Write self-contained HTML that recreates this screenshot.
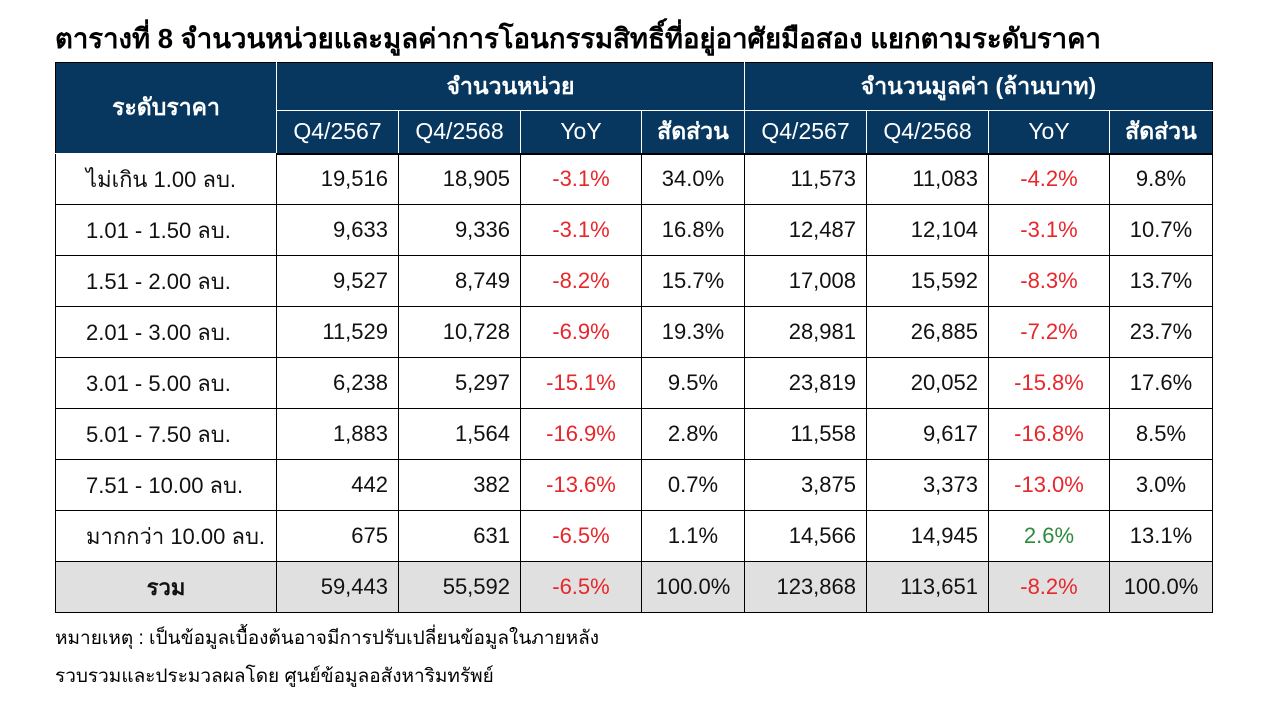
<!DOCTYPE html>
<html><head><meta charset="utf-8"><style>
body{margin:0;width:1269px;height:726px;background:#fff;font-family:"Liberation Sans","DejaVu Sans",sans-serif;position:relative;overflow:hidden}
.title{position:absolute;left:55px;top:17px;font-size:27.5px;font-weight:bold;color:#000;white-space:nowrap}
table{position:absolute;left:55px;top:62px;border-collapse:collapse;table-layout:fixed;font-size:22px}
td,th{border:1px solid #000;padding:0 10px;box-sizing:border-box;white-space:nowrap}
th{background:#07375f;color:#fff;font-weight:normal;border-color:#fff;text-align:center;font-size:23px}
th.b{font-weight:bold}
tr.h1 th{height:48px}
tr.h2 th{height:43px;border-bottom:2px solid #000}
td{height:51px;text-align:right;color:#111}
td.l{text-align:left;padding-left:30px}
td.c{text-align:center}
.r{color:#e8262b}.g{color:#2e8b3d}
tr.tot td{background:#e0e0e0}
.note{position:absolute;left:55px;font-size:19px;color:#000;white-space:nowrap}
</style></head><body>
<div class="title">ตารางที่ 8 จำนวนหน่วยและมูลค่าการโอนกรรมสิทธิ์ที่อยู่อาศัยมือสอง แยกตามระดับราคา</div>
<table>
<colgroup><col style="width:221px"><col style="width:122px"><col style="width:122px"><col style="width:121px"><col style="width:103px"><col style="width:122px"><col style="width:122px"><col style="width:121px"><col style="width:103px"></colgroup>
<tr class="h1"><th rowspan="2" class="b" style="border-left:1px solid #000;border-top:1px solid #000">ระดับราคา</th><th colspan="4" class="b" style="border-top:1px solid #000">จำนวนหน่วย</th><th colspan="4" class="b" style="border-top:1px solid #000;border-right:1px solid #000">จำนวนมูลค่า (ล้านบาท)</th></tr>
<tr class="h2"><th>Q4/2567</th><th>Q4/2568</th><th>YoY</th><th class="b">สัดส่วน</th><th>Q4/2567</th><th>Q4/2568</th><th>YoY</th><th class="b" style="border-right:1px solid #000">สัดส่วน</th></tr>
<tr><td class="l">ไม่เกิน 1.00 ลบ.</td><td>19,516</td><td>18,905</td><td class="c r">-3.1%</td><td class="c">34.0%</td><td>11,573</td><td>11,083</td><td class="c r">-4.2%</td><td class="c">9.8%</td></tr>
<tr><td class="l">1.01 - 1.50 ลบ.</td><td>9,633</td><td>9,336</td><td class="c r">-3.1%</td><td class="c">16.8%</td><td>12,487</td><td>12,104</td><td class="c r">-3.1%</td><td class="c">10.7%</td></tr>
<tr><td class="l">1.51 - 2.00 ลบ.</td><td>9,527</td><td>8,749</td><td class="c r">-8.2%</td><td class="c">15.7%</td><td>17,008</td><td>15,592</td><td class="c r">-8.3%</td><td class="c">13.7%</td></tr>
<tr><td class="l">2.01 - 3.00 ลบ.</td><td>11,529</td><td>10,728</td><td class="c r">-6.9%</td><td class="c">19.3%</td><td>28,981</td><td>26,885</td><td class="c r">-7.2%</td><td class="c">23.7%</td></tr>
<tr><td class="l">3.01 - 5.00 ลบ.</td><td>6,238</td><td>5,297</td><td class="c r">-15.1%</td><td class="c">9.5%</td><td>23,819</td><td>20,052</td><td class="c r">-15.8%</td><td class="c">17.6%</td></tr>
<tr><td class="l">5.01 - 7.50 ลบ.</td><td>1,883</td><td>1,564</td><td class="c r">-16.9%</td><td class="c">2.8%</td><td>11,558</td><td>9,617</td><td class="c r">-16.8%</td><td class="c">8.5%</td></tr>
<tr><td class="l">7.51 - 10.00 ลบ.</td><td>442</td><td>382</td><td class="c r">-13.6%</td><td class="c">0.7%</td><td>3,875</td><td>3,373</td><td class="c r">-13.0%</td><td class="c">3.0%</td></tr>
<tr><td class="l">มากกว่า 10.00 ลบ.</td><td>675</td><td>631</td><td class="c r">-6.5%</td><td class="c">1.1%</td><td>14,566</td><td>14,945</td><td class="c g">2.6%</td><td class="c">13.1%</td></tr>
<tr class="tot"><td class="c" style="font-weight:bold">รวม</td><td>59,443</td><td>55,592</td><td class="c r">-6.5%</td><td class="c">100.0%</td><td>123,868</td><td>113,651</td><td class="c r">-8.2%</td><td class="c">100.0%</td></tr>
</table>
<div class="note" style="top:623px">หมายเหตุ : เป็นข้อมูลเบื้องต้นอาจมีการปรับเปลี่ยนข้อมูลในภายหลัง</div>
<div class="note" style="top:661px">รวบรวมและประมวลผลโดย ศูนย์ข้อมูลอสังหาริมทรัพย์</div>
</body></html>
